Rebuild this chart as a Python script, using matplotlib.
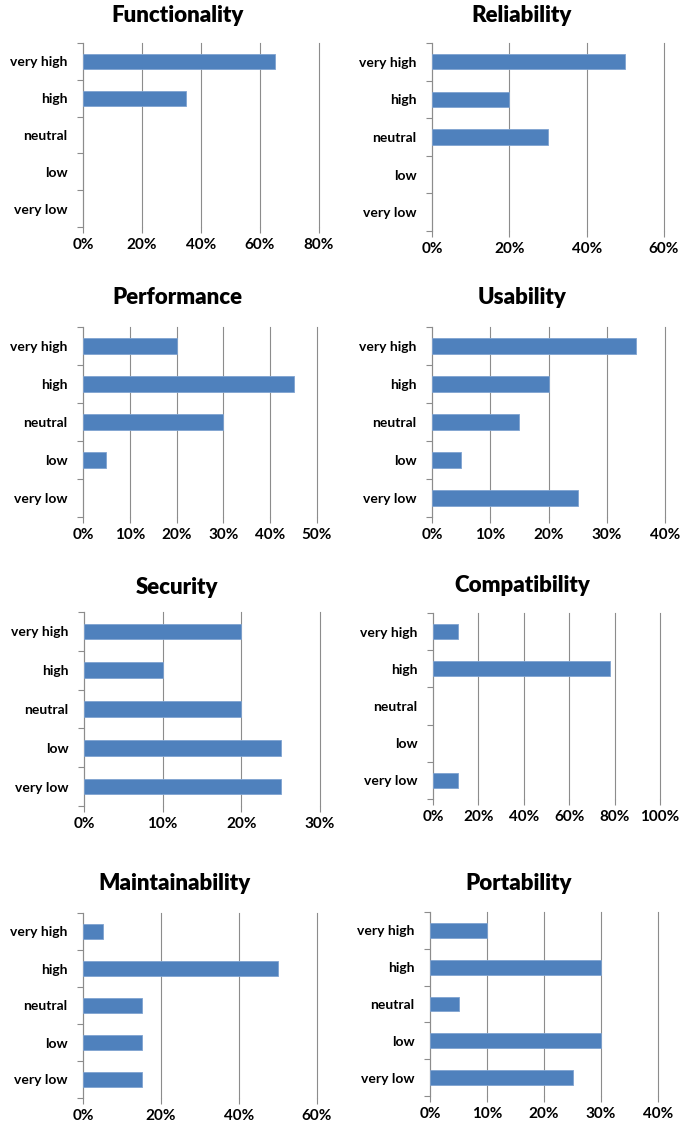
import numpy as np
import matplotlib.pyplot as plt
from matplotlib.ticker import FuncFormatter

categories = ['very high', 'high', 'neutral', 'low', 'very low']

functionality = [65, 35, 0, 0, 0]
reliability = [50, 20, 30, 0, 0]
performance = [20, 45, 30, 5, 0]
usability = [35, 20, 15, 5, 25]
security = [20, 10, 20, 25, 25]
compatibility = [11.1, 77.8, 0, 0, 11.1]
maintainability = [5, 50, 15, 15, 15]
portability = [10, 30, 5, 30, 25]

titles = ['Functionality', 'Reliability', 'Performance', 'Usability',
          'Security', 'Compatibility', 'Maintainability', 'Portability']
series = [functionality, reliability, performance, usability,
          security, compatibility, maintainability, portability]
xmax = [80, 60, 50, 40, 30, 100, 60, 40]
xstep = [20, 20, 10, 10, 10, 20, 20, 10]

# axes boxes in pixels: left, right, top, bottom
boxes = [(83, 319, 43, 227), (432, 664, 43, 231),
         (83, 317, 327, 517), (432, 665, 327, 517),
         (84, 320, 612, 806), (433, 660, 613, 799),
         (83, 317, 913, 1098), (430, 658, 912, 1096)]
title_y = [15, 15, 297, 297, 587, 585, 884, 884]
title_x = [178, 522, 177, 522, 177, 522, 175, 519]

W, H = 696, 1126
plt.rcParams['font.family'] = ['Lato', 'DejaVu Sans']
plt.rcParams['font.weight'] = 'bold'

fig = plt.figure(figsize=(W / 100, H / 100), dpi=100)
grid_col = '#8c8c8c'
bar_col = '#4f81bd'

for i in range(8):
    l, r, t, b = boxes[i]
    ax = fig.add_axes([l / W, 1 - b / H, (r - l) / W, (b - t) / H])
    y = np.arange(len(categories))
    vals = series[i]
    lw = [0.6 if v > 0 else 0 for v in vals]
    ax.barh(y, vals, height=0.4, color=bar_col, edgecolor='#7fa3d1', linewidth=lw, zorder=3)
    ax.set_ylim(len(categories) - 0.5, -0.5)
    ax.set_xlim(0, xmax[i])
    ax.set_xticks(np.arange(0, xmax[i] + 1, xstep[i]))
    ax.xaxis.set_major_formatter(FuncFormatter(lambda v, p: '%d%%' % v))
    ax.grid(axis='x', color=grid_col, linewidth=0.8, zorder=0)
    for gl in ax.get_xgridlines():
        gl.set_clip_on(False)
    ax.set_yticks(y)
    ax.set_yticklabels(categories)
    ax.set_yticks(np.arange(-0.5, len(categories), 1), minor=True)
    ax.tick_params(axis='y', which='major', length=0, pad=11, labelsize=10)
    ax.tick_params(axis='y', which='minor', length=4, color=grid_col, width=0.8)
    ax.tick_params(axis='x', which='major', length=4, color=grid_col, width=0.8, labelsize=11, pad=4)
    for s in ['top', 'right', 'bottom']:
        ax.spines[s].set_visible(False)
    ax.spines['left'].set_color(grid_col)
    ax.spines['left'].set_linewidth(0.8)
    fig.text(title_x[i] / W, 1 - title_y[i] / H, titles[i], ha='center', va='center',
             fontsize=16, fontweight='heavy')

fig.savefig('out.png', dpi=100)
